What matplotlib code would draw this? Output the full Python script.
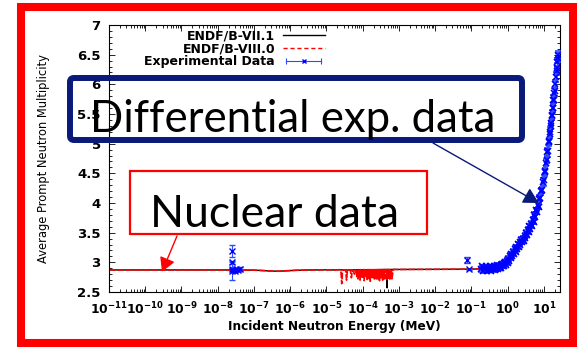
import numpy as np
import matplotlib
matplotlib.use("Agg")
import matplotlib.pyplot as plt
from matplotlib.lines import Line2D
from matplotlib.patches import Rectangle, FancyBboxPatch
from matplotlib.ticker import LogLocator, NullFormatter, MultipleLocator
from matplotlib.legend_handler import HandlerLine2D, HandlerTuple

plt.rcParams['font.family'] = 'DejaVu Sans'
plt.rcParams['mathtext.fontset'] = 'dejavusans'

# ---------------- datos evaluados (ENDF) ----------------
low_e = [1e-11, 1e-10, 1e-9, 1e-8, 5e-8, 1e-7, 2e-7, 3e-7, 5e-7, 8e-7,
         1.5e-6, 4e-6, 1e-5, 1.8e-5, 2.3e-5]
low_v = [2.872, 2.872, 2.872, 2.872, 2.870, 2.868, 2.860, 2.852, 2.850, 2.858,
         2.866, 2.872, 2.874, 2.872, 2.876]

# resonancias ENDF/B-VIII.0
res8_e = [2.5e-5, 2.65e-5, 2.8e-5, 3.4e-5, 3.6e-5, 3.8e-5, 4.6e-5, 4.9e-5,
          5.2e-5, 6.0e-5, 6.4e-5, 6.9e-5,
          7.2e-5, 7.45e-5, 7.7e-5, 7.95e-5, 8.2e-5, 8.5e-5, 8.8e-5, 9.1e-5,
          9.4e-5, 9.7e-5, 1.0e-4, 1.035e-4, 1.07e-4, 1.10e-4, 1.14e-4,
          1.18e-4, 1.22e-4, 1.26e-4, 1.30e-4, 1.34e-4, 1.39e-4, 1.43e-4,
          1.48e-4, 1.53e-4, 1.58e-4, 1.63e-4, 1.69e-4, 1.74e-4, 1.80e-4,
          1.86e-4, 1.92e-4, 1.99e-4, 2.05e-4, 2.12e-4, 2.19e-4, 2.26e-4,
          2.34e-4, 2.42e-4, 2.50e-4, 2.58e-4, 2.66e-4, 2.75e-4, 2.84e-4,
          2.94e-4, 3.03e-4, 3.13e-4, 3.24e-4, 3.35e-4, 3.46e-4, 3.57e-4,
          3.69e-4, 3.81e-4, 3.94e-4, 4.07e-4, 4.20e-4, 4.34e-4, 4.49e-4,
          4.63e-4, 4.79e-4, 4.95e-4, 5.11e-4, 5.28e-4, 5.45e-4, 5.63e-4,
          5.82e-4, 6.01e-4, 6.21e-4, 6.42e-4]
res8_v = [2.870, 2.640, 2.872, 2.870, 2.700, 2.872, 2.870, 2.740, 2.872,
          2.800, 2.872, 2.760,
          2.878, 2.720, 2.878, 2.760, 2.878, 2.700, 2.878, 2.780, 2.878,
          2.730, 2.878, 2.750, 2.878, 2.690, 2.878, 2.770, 2.878, 2.740,
          2.878, 2.710, 2.878, 2.760, 2.878, 2.720, 2.878, 2.680, 2.878,
          2.750, 2.878, 2.730, 2.878, 2.770, 2.878, 2.700, 2.878, 2.740,
          2.878, 2.720, 2.878, 2.760, 2.878, 2.710, 2.878, 2.690, 2.878,
          2.750, 2.878, 2.730, 2.878, 2.700, 2.878, 2.770, 2.878, 2.720,
          2.878, 2.740, 2.878, 2.710, 2.878, 2.750, 2.878, 2.730, 2.878,
          2.700, 2.878, 2.760, 2.878, 2.720]

# resonancias ENDF/B-VII.1
res7_e = [2.5e-5, 4.0e-5, 8.0e-5, 1.5e-4, 3.0e-4, 4.6e-4, 4.7e-4, 4.8e-4,
          6.6e-4]
res7_v = [2.874, 2.870, 2.876, 2.872, 2.878, 2.880, 2.570, 2.880, 2.880]

high_e = [7e-4, 1e-3, 1e-2, 5e-2, 0.1, 0.2, 0.5, 1.0, 2.0, 3.0, 4.0, 5.0,
          6.0, 7.0, 8.0, 10.0, 12.0, 14.0, 16.0, 18.0, 20.0]
high_v = [2.880, 2.880, 2.882, 2.884, 2.886, 2.890, 2.930, 3.020, 3.280,
          3.430, 3.570, 3.720, 3.840, 3.970, 4.110, 4.420, 4.760, 5.080,
          5.360, 5.630, 5.900]

endf7_e = low_e + res7_e + high_e
endf7_v = low_v + res7_v + high_v
endf8_e = low_e + res8_e + high_e
endf8_v = low_v + res8_v + high_v

# ---------------- datos experimentales ----------------
thermal_e = [2.53e-8, 2.53e-8, 2.53e-8, 2.53e-8, 2.7e-8, 3.0e-8, 3.3e-8,
             3.6e-8, 4.0e-8, 0.078, 0.085]
thermal_v = [3.19, 3.00, 2.88, 2.85, 2.87, 2.86, 2.88, 2.87, 2.89, 3.04, 2.88]
thermal_err = [0.10, 0.02, 0.02, 0.15, 0.03, 0.02, 0.03, 0.02, 0.03, 0.05,
               0.01]

fast_e = [0.19, 0.20, 0.21, 0.23, 0.24, 0.26, 0.27, 0.29, 0.31, 0.32,
          0.34, 0.36, 0.38, 0.40, 0.42, 0.44, 0.47, 0.49, 0.52, 0.55,
          0.58, 0.61, 0.64, 0.67, 0.70, 0.74, 0.78, 0.82, 0.86, 0.90,
          0.95, 1.00, 1.05, 1.10, 1.16, 1.22, 1.28, 1.35, 1.42, 1.50,
          1.58, 1.66, 1.75, 1.85, 1.95, 2.05, 2.15, 2.27, 2.40, 2.52,
          2.65, 2.80, 2.95, 3.10, 3.25, 3.45, 3.60, 3.80, 4.00, 4.20,
          4.45, 4.70, 4.95, 5.20, 5.50, 5.80, 6.10, 6.40, 6.80, 7.20,
          7.60, 8.00, 8.50, 9.00, 9.50, 10.0, 10.5, 11.0, 11.5, 12.0,
          12.5, 13.0, 13.5, 14.0, 14.5, 15.0, 15.5, 16.0, 16.5, 17.0,
          17.5, 18.0, 18.5, 19.0, 19.5, 20.0, 21.0, 22.0, 22.5, 23.0,
          23.5, 24.0, 24.5]
fast_v = [2.88, 2.93, 2.86, 2.91, 2.88, 2.93, 2.86, 2.90, 2.87, 2.93,
          2.89, 2.86, 2.92, 2.88, 2.94, 2.87, 2.92, 2.89, 2.95, 2.88,
          2.93, 2.90, 2.96, 2.91, 2.97, 2.93, 2.99, 2.94, 3.00, 2.96,
          3.03, 2.99, 3.06, 3.03, 3.11, 3.07, 3.14, 3.11, 3.18, 3.14,
          3.23, 3.18, 3.26, 3.22, 3.31, 3.26, 3.34, 3.30, 3.38, 3.34,
          3.40, 3.36, 3.45, 3.41, 3.50, 3.46, 3.55, 3.51, 3.61, 3.56,
          3.65, 3.61, 3.72, 3.68, 3.80, 3.76, 3.88, 3.84, 3.96, 3.94,
          4.07, 4.08, 4.20, 4.22, 4.36, 4.38, 4.52, 4.54, 4.68, 4.72,
          4.86, 4.88, 5.02, 5.04, 5.16, 5.20, 5.30, 5.34, 5.46, 5.48,
          5.60, 5.60, 5.74, 5.74, 5.86, 5.88, 6.00, 6.12, 6.22, 6.28,
          6.38, 6.45, 6.50]
fast_err = [0.04, 0.03, 0.04, 0.03, 0.04, 0.03, 0.04, 0.03, 0.04, 0.03,
            0.04, 0.03, 0.04, 0.03, 0.04, 0.03, 0.04, 0.03, 0.04, 0.03,
            0.04, 0.03, 0.04, 0.03, 0.04, 0.03, 0.04, 0.03, 0.04, 0.03,
            0.04, 0.03, 0.04, 0.03, 0.04, 0.03, 0.04, 0.03, 0.04, 0.03,
            0.04, 0.03, 0.04, 0.03, 0.04, 0.03, 0.04, 0.03, 0.04, 0.03,
            0.04, 0.03, 0.04, 0.03, 0.04, 0.03, 0.04, 0.03, 0.04, 0.03,
            0.04, 0.03, 0.04, 0.03, 0.04, 0.03, 0.04, 0.03, 0.05, 0.04,
            0.06, 0.05, 0.06, 0.05, 0.06, 0.10, 0.06, 0.05, 0.06, 0.05,
            0.06, 0.10, 0.06, 0.05, 0.06, 0.08, 0.06, 0.05, 0.06, 0.08,
            0.07, 0.06, 0.08, 0.06, 0.08, 0.07, 0.07, 0.08, 0.07, 0.08,
            0.07, 0.08, 0.07]

x_ticks = [1e-11, 1e-10, 1e-9, 1e-8, 1e-7, 1e-6, 1e-5, 1e-4, 1e-3, 1e-2,
           1e-1, 1e0, 1e1]
x_labels = [r'$\mathbf{10^{-11}}$', r'$\mathbf{10^{-10}}$', r'$\mathbf{10^{-9}}$',
            r'$\mathbf{10^{-8}}$', r'$\mathbf{10^{-7}}$', r'$\mathbf{10^{-6}}$',
            r'$\mathbf{10^{-5}}$', r'$\mathbf{10^{-4}}$', r'$\mathbf{10^{-3}}$',
            r'$\mathbf{10^{-2}}$', r'$\mathbf{10^{-1}}$', r'$\mathbf{10^{0}}$',
            r'$\mathbf{10^{1}}$']
y_ticks = [2.5, 3, 3.5, 4, 4.5, 5, 5.5, 6, 6.5, 7]
y_labels = ['2.5', '3', '3.5', '4', '4.5', '5', '5.5', '6', '6.5', '7']

# ---------------- figura ----------------
W, H = 577, 347
fig = plt.figure(figsize=(W / 100, H / 100), dpi=100)
ax = fig.add_axes([109 / W, 1 - 292 / H, 451 / W, 267 / H])

azul = '#0000ff'
azul_barra = '#2a4cff'
ax.plot(endf7_e, endf7_v, color='black', lw=1.0)
ax.plot(endf8_e, endf8_v, color='#ff0000', lw=1.2, ls=(0, (4, 1)))
ax.errorbar(thermal_e, thermal_v, yerr=thermal_err, fmt='x', color=azul,
            ms=4, mew=1.0, ecolor=azul_barra, elinewidth=0.8, capsize=2,
            capthick=0.8, zorder=5)
ax.errorbar(fast_e, fast_v, yerr=fast_err, fmt='x', color=azul, ms=4.5,
            mew=1.2, ecolor=azul_barra, elinewidth=0.9, capsize=2,
            capthick=0.9, zorder=5)

ax.set_xscale('log')
ax.set_xlim(1e-11, 28)
ax.set_ylim(2.5, 7)
ax.set_xticks(x_ticks)
ax.set_xticklabels(x_labels)
ax.xaxis.set_minor_locator(LogLocator(base=10, subs=np.arange(2, 10), numticks=100))
ax.xaxis.set_minor_formatter(NullFormatter())
ax.set_yticks(y_ticks)
ax.set_yticklabels(y_labels, fontweight='bold')
ax.yaxis.set_minor_locator(MultipleLocator(0.1))
ax.tick_params(which='both', direction='in', top=True, right=True, width=0.6)
ax.tick_params(which='major', length=4, pad=6)
ax.tick_params(which='minor', length=2)
ax.tick_params(axis='x', labelsize=8.8)
ax.tick_params(axis='y', labelsize=9.5)
for s in ax.spines.values():
    s.set_linewidth(0.8)

ax.set_xlabel('Incident Neutron Energy (MeV)', fontsize=8.7, fontweight='bold')
ax.set_ylabel('Average Prompt Neutron Multiplicity', fontsize=8.3)
ax.xaxis.set_label_coords(0.5, -0.105)
ax.yaxis.set_label_coords(-0.131, 0.5)

# leyenda estilo gnuplot
h7 = Line2D([], [], color='black', lw=1.0)
h8 = Line2D([], [], color='#ff0000', lw=1.0, ls=(0, (3, 2)))
hcap = Line2D([], [], color=azul_barra, lw=0.8, marker='|', ms=5, mew=0.8)
hx = Line2D([], [], color=azul, ls='none', marker='x', ms=3.5, mew=1.0)
leg = ax.legend([h7, h8, (hcap, hx)],
                ['ENDF/B-VII.1', 'ENDF/B-VIII.0', 'Experimental Data'],
                handler_map={hcap: HandlerLine2D(numpoints=2),
                             hx: HandlerLine2D(numpoints=1),
                             tuple: HandlerTuple(ndivide=1)},
                loc='upper right', bbox_to_anchor=(0.479, 0.985),
                frameon=False, markerfirst=False, handlelength=3.4,
                handletextpad=0.6, labelspacing=0.0, borderpad=0,
                borderaxespad=0, prop={'size': 9, 'weight': 'bold'})

# ---------------- capa de anotaciones (en píxeles) ----------------
ov = fig.add_axes([0, 0, 1, 1], zorder=10)
ov.set_xlim(0, W)
ov.set_ylim(H, 0)
ov.axis('off')
ov.patch.set_alpha(0)

ov.add_patch(Rectangle((21, 7), 552, 335.5, fill=False, edgecolor='#ff0000',
                       lw=5.8))

navy = '#0a1a7a'
ov.add_patch(FancyBboxPatch((70, 78), 452, 62,
                            boxstyle='round,pad=0,rounding_size=4',
                            fill=False, edgecolor=navy, lw=4.3))
ov.text(90, 132, 'Differential exp. data', fontsize=31.5, family='Lato',
        ha='left', va='baseline', color='black')
ov.annotate('', xy=(7.3, 4.0), xycoords=ax.transData,
            xytext=(433, 143), textcoords='data',
            arrowprops=dict(arrowstyle='-|>,head_length=0.55,head_width=0.3',
                            mutation_scale=17, lw=1.0, color=navy,
                            shrinkA=0, shrinkB=0))

ov.add_patch(Rectangle((130, 171), 297, 63, fill=False, edgecolor='#ff0000',
                       lw=1.6))
ov.text(150, 227, 'Nuclear data', fontsize=32, family='Lato',
        ha='left', va='baseline', color='black')
ov.annotate('', xy=(2.9e-10, 2.84), xycoords=ax.transData,
            xytext=(177, 236), textcoords='data',
            arrowprops=dict(arrowstyle='-|>,head_length=0.5,head_width=0.28',
                            mutation_scale=17, lw=1.0, color='#ff0000',
                            shrinkA=0, shrinkB=0))

fig.savefig('out.png', dpi=100)
